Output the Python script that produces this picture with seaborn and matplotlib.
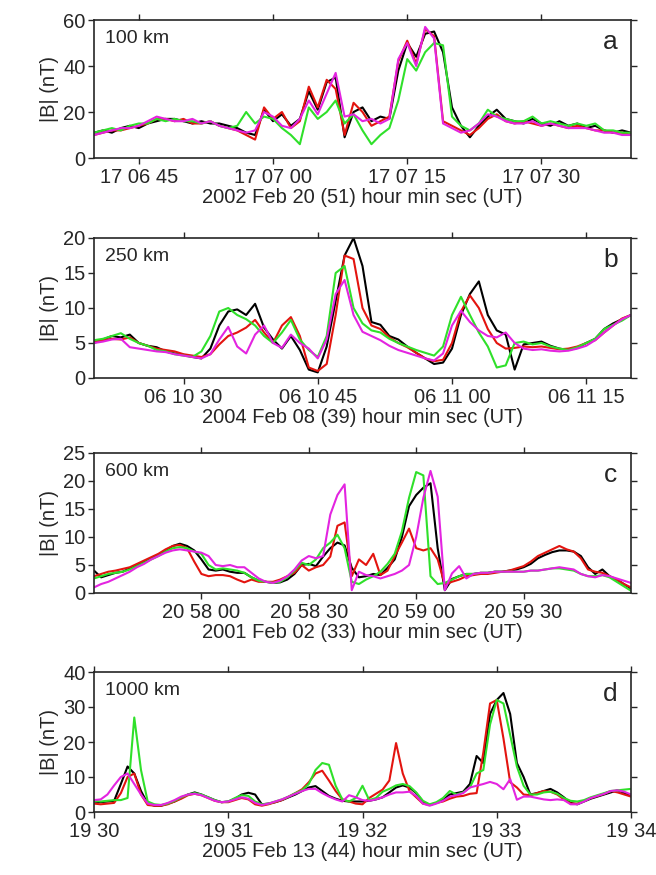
import numpy as np
import pandas as pd
import matplotlib
matplotlib.use("Agg")
import matplotlib.pyplot as plt
import seaborn as sns

# ---------------- data ----------------
# Panel a: seconds after 17:06:00, 1 s samples 40..100
a_t0, a_dt = 40, 1
a_black = [11,12,11,13,14,13,15,16,17,17,16,15,16,15,15,14,13,11,10,21,16,19,14,17,29,21,33,35,9,20,22,16,18,17,38,50,44,54,55,46,22,14,9,14,18,21,17,16,15,17,15,14,16,14,15,13,14,12,11,12,11]
a_red   = [10,11,12,12,13,14,15,17,17,16,17,15,15,16,14,13,12,10,8,22,17,20,13,16,31,22,34,30,10,24,20,14,16,18,42,51,41,56,53,16,14,12,10,13,17,19,16,15,16,15,14,15,14,13,14,13,12,12,11,11,10]
a_green = [11,12,13,12,14,15,15,17,16,17,16,16,15,16,14,13,14,20,15,18,17,13,10,6,22,17,20,25,15,19,12,6,10,13,25,43,38,46,50,49,18,14,12,15,21,18,17,16,16,18,15,16,15,14,15,14,15,12,12,11,11]
a_mag   = [10,11,12,13,13,14,16,18,17,16,16,17,15,16,14,13,12,11,12,20,18,14,13,17,25,19,28,37,18,19,16,17,15,17,43,50,40,57,52,15,13,11,12,15,19,18,16,15,15,16,14,15,14,13,13,13,12,11,11,10,10]

# Panel b: seconds after 06:10:00, 1 s samples 20..80
b_t0, b_dt = 20, 1
b_black = [5.0,5.5,6.0,5.8,6.2,5.0,4.6,4.4,3.8,3.5,3.3,3.0,2.8,4.2,7.5,9.5,9.8,9.0,10.6,7.2,5.5,4.2,6.0,4.0,1.2,0.8,4.5,11.0,17.5,20.0,16.0,8.0,7.6,6.0,5.5,4.5,3.6,2.8,2.0,2.2,4.2,9.0,12.0,13.8,9.0,6.8,6.2,1.2,4.8,5.0,5.2,4.6,4.2,4.0,4.3,5.0,5.6,7.0,7.8,8.4,9.0]
b_red   = [5.2,5.4,5.6,5.5,5.8,5.0,4.6,4.2,4.0,3.8,3.4,3.2,3.0,3.4,4.8,6.0,6.5,7.2,8.3,6.5,5.0,7.5,8.7,6.0,1.5,1.0,2.0,9.0,17.5,17.0,10.0,7.5,7.0,5.8,5.0,4.4,3.6,2.8,2.4,2.6,5.0,9.5,11.8,10.0,7.0,5.0,4.2,4.3,4.5,4.4,4.5,4.3,4.1,4.2,4.5,5.0,5.4,6.5,7.5,8.5,9.0]
b_green = [5.4,5.6,6.0,6.4,5.6,5.0,4.6,4.0,3.8,3.4,3.2,3.0,3.8,6.0,9.5,10.0,9.0,8.4,7.5,6.0,5.0,6.5,8.3,5.5,4.0,3.0,6.0,15.0,16.0,10.0,7.8,6.8,6.5,5.6,5.0,4.5,4.0,3.6,3.2,4.5,9.0,11.6,9.0,6.5,4.5,1.5,1.8,5.0,5.2,4.8,5.0,4.5,4.2,4.0,4.4,5.0,5.6,7.0,7.6,8.2,9.0]
b_mag   = [5.0,5.2,5.5,5.6,4.4,4.2,4.0,3.8,3.7,3.4,3.2,3.0,2.8,3.4,5.5,7.3,4.5,3.5,6.2,7.5,5.0,4.3,6.2,5.0,4.2,2.8,5.5,12.0,14.0,9.0,6.6,6.0,5.4,4.6,4.0,3.6,3.2,2.8,2.5,3.5,7.5,9.6,8.0,6.8,6.0,5.8,6.5,5.0,4.2,4.0,4.1,3.9,3.8,3.9,4.2,4.6,5.4,6.5,7.5,8.4,9.0]

# Panel c: seconds after 20:57:00, 2 s samples 30..180
c_t0, c_dt = 30, 2
c_black = [4.0,2.8,3.2,3.6,3.8,4.4,5.0,5.6,6.2,6.8,7.6,8.4,8.8,8.4,7.6,6.0,4.2,4.0,4.2,3.8,3.6,3.6,2.8,2.2,2.0,1.8,1.9,2.4,3.4,5.0,5.2,4.8,6.5,8.0,9.0,8.5,4.5,2.8,3.0,3.4,3.2,4.5,6.0,10.0,15.5,17.5,18.8,19.6,8.0,0.5,2.5,3.0,3.4,3.4,3.6,3.6,3.8,3.8,4.0,4.2,4.6,5.2,6.2,6.8,7.3,7.6,7.6,7.4,6.6,4.6,3.4,4.2,3.0,2.4,1.6,0.8]
c_red   = [3.0,3.4,3.8,4.0,4.3,4.6,5.2,5.8,6.4,7.0,7.8,8.4,8.6,8.0,5.6,3.4,3.0,3.2,3.2,3.0,2.4,1.9,2.4,2.0,2.0,2.0,2.4,3.0,3.6,5.0,4.0,4.6,5.0,6.5,12.0,12.6,3.0,6.0,5.0,7.0,3.2,4.0,6.6,9.0,11.5,8.0,7.6,8.0,6.0,1.5,2.0,2.4,3.0,3.2,3.4,3.4,3.6,3.8,4.0,4.4,4.8,5.6,6.6,7.2,7.8,8.4,7.8,7.4,6.2,4.2,3.8,3.6,3.0,2.4,1.6,1.0]
c_green = [2.6,3.0,3.4,3.6,3.8,4.2,4.8,5.4,6.0,6.6,7.4,8.0,8.2,8.0,7.4,7.0,5.0,4.2,4.4,4.2,4.0,3.6,2.8,2.2,2.0,1.8,2.0,2.8,4.0,5.4,5.0,6.0,8.0,9.0,10.4,8.0,2.0,1.6,2.4,3.0,3.8,5.2,7.0,11.0,17.0,21.6,21.0,3.0,1.6,1.8,2.4,3.0,3.4,3.4,3.6,3.6,3.8,3.8,3.8,3.8,3.8,4.0,4.0,4.2,4.4,4.4,4.2,4.0,3.4,3.0,3.0,3.2,2.8,2.0,1.2,0.4]
c_mag   = [1.0,1.6,2.0,2.6,3.2,3.8,4.6,5.2,6.0,6.6,7.2,7.6,7.8,7.6,7.4,7.2,6.6,5.0,4.8,5.0,4.6,4.6,3.6,2.6,2.0,1.8,2.2,3.0,4.2,5.8,6.6,6.2,6.6,14.0,17.5,19.4,0.5,3.8,3.2,3.0,2.6,3.0,3.4,4.0,5.0,10.0,17.0,21.8,17.2,0.5,3.5,4.8,2.6,3.4,3.6,3.6,3.8,3.8,3.8,3.8,3.8,4.0,4.0,4.2,4.4,4.6,4.4,4.2,3.4,3.0,2.8,3.2,3.0,2.6,2.2,1.8]

# Panel d: seconds after 19:30:00, 3 s samples 0..240
d_t0, d_dt = 0, 3
d_black = [3.0,2.8,3.0,3.2,8.0,13.0,11.0,6.0,2.4,1.8,1.8,2.4,3.0,4.0,5.0,5.6,5.0,4.2,3.4,2.8,3.0,3.8,5.0,5.5,5.0,2.2,2.4,2.8,3.4,4.2,5.0,6.0,7.0,7.4,6.0,4.6,3.8,3.2,3.0,3.0,3.0,3.2,3.6,4.2,5.6,7.0,7.6,7.0,5.4,3.0,2.0,2.6,3.4,5.0,5.4,5.8,8.0,16.0,14.0,28.0,32.0,34.0,28.0,14.0,10.0,5.0,5.4,6.0,6.6,5.6,4.2,2.6,2.2,3.0,3.8,4.4,5.0,5.6,6.2,5.4,4.6]
d_red   = [2.4,2.2,2.4,2.6,5.4,10.0,11.0,5.0,2.0,1.8,1.8,2.2,3.0,3.8,4.8,5.2,4.8,4.0,3.2,2.8,2.8,3.4,4.0,3.6,2.2,1.8,2.2,2.8,3.4,4.4,5.4,6.5,8.5,11.0,11.8,9.0,6.0,3.6,3.0,2.4,2.2,4.0,5.2,6.4,9.0,19.7,11.0,6.0,4.2,2.4,2.0,2.6,3.0,3.8,4.4,4.6,5.2,5.4,17.0,31.0,32.0,21.0,8.5,7.0,5.0,4.8,5.4,6.0,5.8,5.0,3.6,2.4,2.4,3.2,4.0,4.6,5.2,6.0,5.6,5.0,4.4]
d_green = [3.2,3.0,3.2,3.4,3.4,4.0,27.0,12.0,3.0,2.2,2.0,2.4,3.2,4.2,5.0,5.4,5.0,4.2,3.4,2.8,3.0,4.0,4.8,4.6,3.0,2.2,2.4,3.0,3.6,4.4,5.4,6.2,8.0,12.0,14.0,13.5,7.5,3.6,3.0,4.0,7.5,3.4,4.0,5.8,6.6,7.6,8.0,7.4,5.6,3.2,2.2,2.8,4.0,6.0,5.0,5.6,7.0,11.0,12.0,25.0,32.0,31.0,22.0,13.0,7.5,5.0,5.0,5.6,5.8,5.2,4.0,3.2,3.0,3.4,4.2,4.8,5.4,6.0,6.2,6.4,6.6]
d_mag   = [3.4,3.6,5.0,7.6,10.0,11.0,8.0,5.0,2.4,2.0,2.0,2.6,3.4,4.4,5.0,5.2,4.8,4.0,3.2,2.8,3.0,3.6,4.2,3.8,2.6,2.0,2.4,3.0,3.6,4.4,5.2,6.0,6.6,6.6,5.4,4.4,3.6,3.0,4.8,4.2,3.4,3.2,3.6,4.2,5.0,5.6,5.6,5.8,4.6,2.4,1.8,2.4,3.2,4.4,4.8,5.4,7.0,7.5,8.0,8.6,8.0,6.5,9.4,3.5,4.4,4.4,4.0,3.6,3.4,3.6,3.4,2.2,2.2,3.0,4.0,4.6,5.2,6.0,6.2,5.8,5.0]

a_ticks = [45, 60, 75, 90]
a_ticklabels = ["17 06 45", "17 07 00", "17 07 15", "17 07 30"]
b_ticks = [30, 45, 60, 75]
b_ticklabels = ["06 10 30", "06 10 45", "06 11 00", "06 11 15"]
c_ticks = [60, 90, 120, 150]
c_ticklabels = ["20 58 00", "20 58 30", "20 59 00", "20 59 30"]
d_ticks = [0, 60, 120, 180, 240]
d_ticklabels = ["19 30", "19 31", "19 32", "19 33", "19 34"]

xlabels = ["2002 Feb 20 (51) hour min sec (UT)",
           "2004 Feb 08 (39) hour min sec (UT)",
           "2001 Feb 02 (33) hour min sec (UT)",
           "2005 Feb 13 (44) hour min sec (UT)"]
alt_labels = ["100 km", "250 km", "600 km", "1000 km"]
panel_letters = ["a", "b", "c", "d"]
y_max = [60, 20, 25, 40]
y_step = [20, 5, 5, 10]
x_lims = [(40, 100), (20, 80), (30, 180), (0, 240)]

series_names = ["black", "red", "green", "magenta"]
palette = {"black": "#000000", "red": "#e3140f", "green": "#2fe02a", "magenta": "#e324e0"}

panels = [
    (a_t0, a_dt, [a_black, a_red, a_green, a_mag], a_ticks, a_ticklabels),
    (b_t0, b_dt, [b_black, b_red, b_green, b_mag], b_ticks, b_ticklabels),
    (c_t0, c_dt, [c_black, c_red, c_green, c_mag], c_ticks, c_ticklabels),
    (d_t0, d_dt, [d_black, d_red, d_green, d_mag], d_ticks, d_ticklabels),
]

# ---------------- figure ----------------
sns.set_style("ticks")
plt.rcParams["font.family"] = ["Liberation Sans", "DejaVu Sans"]
plt.rcParams["axes.linewidth"] = 1.2

FS = 14.5
fig = plt.figure(figsize=(6.56, 8.75), dpi=100)
W, H = 656.0, 875.0
left_px, right_px = 94, 631
tops = [20, 238, 453, 672]
bottoms = [158, 378, 593, 812]

for i, (t0, dt, vals, ticks, ticklabels) in enumerate(panels):
    ax = fig.add_axes([left_px / W, 1 - bottoms[i] / H,
                       (right_px - left_px) / W, (bottoms[i] - tops[i]) / H])
    rows = []
    for name, v in zip(series_names, vals):
        t = t0 + dt * np.arange(len(v))
        rows.append(pd.DataFrame({"t": t, "B": v, "sat": name}))
    df = pd.concat(rows, ignore_index=True)
    sns.lineplot(data=df, x="t", y="B", hue="sat", palette=palette,
                 hue_order=series_names, estimator=None, sort=False,
                 linewidth=1.5, legend=False, ax=ax)
    ax.set_xlim(*x_lims[i])
    ax.set_ylim(0, y_max[i])
    yt = np.arange(0, y_max[i] + 0.1, y_step[i])
    ax.set_yticks(yt)
    ax.set_yticklabels([f"{int(v)}" for v in yt])
    ax.set_xticks(ticks)
    ax.set_xticklabels(ticklabels)
    ax.tick_params(direction="out", length=4, width=1.0, labelsize=FS,
                   top=True, right=True, pad=2)
    ax.tick_params(axis="x", pad=3)
    for s in ax.spines.values():
        s.set_visible(True)
        s.set_linewidth(1.2)
    ax.set_xlabel(xlabels[i], fontsize=FS, labelpad=1)
    ax.set_ylabel("|B| (nT)", fontsize=FS, labelpad=3)
    ax.text(0.02, 0.93, alt_labels[i], transform=ax.transAxes,
            fontsize=FS - 0.5, ha="left", va="top")
    ax.text(0.975, 0.93, panel_letters[i], transform=ax.transAxes,
            fontsize=19, ha="right", va="top")

fig.savefig("out.png", dpi=100)
